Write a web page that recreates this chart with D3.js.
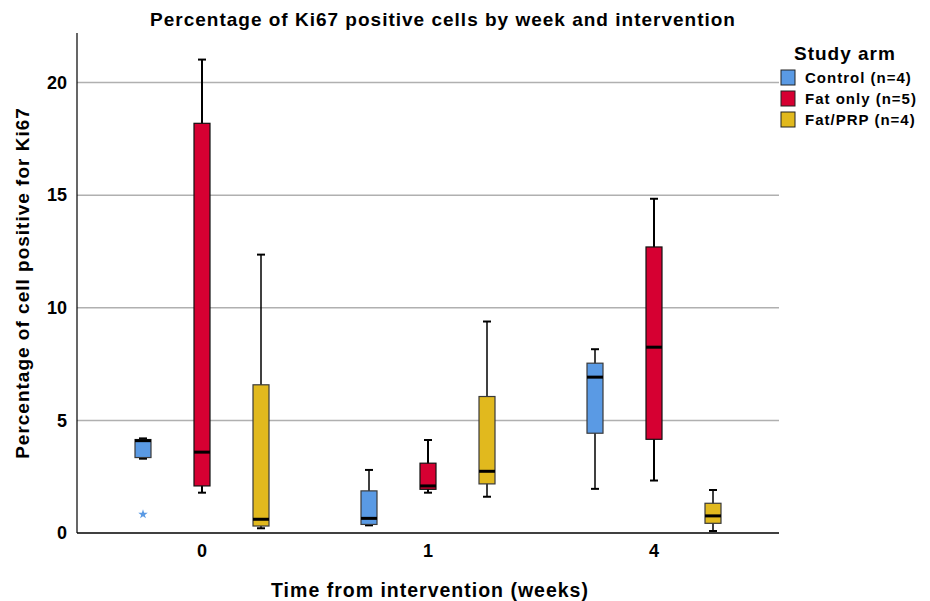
<!DOCTYPE html>
<html><head><meta charset="utf-8">
<script src="https://cdn.jsdelivr.net/npm/d3@7/dist/d3.min.js"></script>
<style>body{margin:0;background:#fff}svg{font-family:"Liberation Sans",Arial,sans-serif;font-weight:bold}</style>
</head><body><svg id="c" width="930" height="601"></svg>
<script>
const weeks = ["0","1","4"];
const arms = ["Control (n=4)","Fat only (n=5)","Fat/PRP (n=4)"];
const colors = ["#5a9ae4","#d60032","#e1b91e"];
const yTicks = [0,5,10,15,20];
// [min, q1, median, q3, max] per week
const control = [[3.3,3.35,4.1,4.15,4.2],[0.34,0.38,0.65,1.87,2.8],[1.96,4.43,6.92,7.54,8.16]];
const fatOnly = [[1.79,2.09,3.59,18.19,21.02],[1.79,1.94,2.09,3.1,4.13],[2.33,4.16,8.25,12.7,14.84]];
const fatPRP  = [[0.21,0.31,0.61,6.58,12.36],[1.61,2.18,2.74,6.06,9.39],[0.09,0.43,0.76,1.32,1.91]];
const outliers = [{week:"0", arm:0, value:0.83}];

const svg = d3.select("#c");
const pL=77,pR=779,pT=33,pB=533;
const x = d3.scaleBand().domain(weeks).range([89,767]);
const sub = d3.scalePoint().domain([0,1,2]).range([-59,59]);
const y = d3.scaleLinear().domain([0,22.2]).range([pB,pT]);
const FF="Liberation Sans, Arial, sans-serif";

// gridlines
svg.append("g").selectAll("line").data(yTicks.filter(d=>d>0)).join("line")
  .attr("x1",pL).attr("x2",pR).attr("y1",d=>y(d)).attr("y2",d=>y(d))
  .attr("stroke","#b0b0b0").attr("stroke-width",1.5);

// axes
const ya = svg.append("g").attr("transform",`translate(${pL},0)`)
  .call(d3.axisLeft(y).tickValues(yTicks).tickSize(0).tickPadding(10));
ya.select(".domain").remove();
ya.selectAll("text").attr("font-size",18).attr("font-weight","bold").attr("fill","#000").attr("font-family",FF);
svg.append("line").attr("x1",pL).attr("x2",pL).attr("y1",pT).attr("y2",pB).attr("stroke","#000").attr("stroke-width",1.2);
const xa = svg.append("g").attr("transform",`translate(0,${pB})`)
  .call(d3.axisBottom(x).tickSize(0).tickPadding(11));
xa.select(".domain").remove();
xa.selectAll("text").attr("font-size",18).attr("font-weight","bold").attr("fill","#000").attr("font-family",FF);
svg.append("line").attr("x1",pL).attr("x2",pR).attr("y1",pB).attr("y2",pB).attr("stroke","#000").attr("stroke-width",1.5);

// boxes
const series=[control,fatOnly,fatPRP];
const bw=16, cap=8;
series.forEach((s,i)=>{
  s.forEach((st,w)=>{
    const cx = x(weeks[w])+x.bandwidth()/2+sub(i);
    const g=svg.append("g");
    const stroke = i===1?"#111":"#3a3a3a";
    g.append("line").attr("x1",cx).attr("x2",cx).attr("y1",y(st[4])).attr("y2",y(st[0])).attr("stroke","#000").attr("stroke-width",i===1?2:1.5);
    [st[0],st[4]].forEach(v=>g.append("line").attr("x1",cx-cap/2).attr("x2",cx+cap/2).attr("y1",y(v)).attr("y2",y(v)).attr("stroke","#000").attr("stroke-width",2));
    g.append("rect").attr("x",cx-bw/2).attr("width",bw).attr("y",y(st[3])).attr("height",y(st[1])-y(st[3]))
      .attr("fill",colors[i]).attr("stroke",stroke).attr("stroke-width",1.2);
    g.append("line").attr("x1",cx-bw/2).attr("x2",cx+bw/2).attr("y1",y(st[2])).attr("y2",y(st[2])).attr("stroke","#000").attr("stroke-width",3);
  });
});
outliers.forEach(o=>{
  const cx=x(o.week)+x.bandwidth()/2+sub(o.arm);
  svg.append("path").attr("d",d3.symbol(d3.symbolStar,28)()).attr("transform",`translate(${cx},${y(o.value)})`).attr("fill",colors[o.arm]);
});

// titles
svg.append("text").attr("x",443).attr("y",26).attr("text-anchor","middle").attr("font-size",19).attr("letter-spacing",1).text("Percentage of Ki67 positive cells by week and intervention");
svg.append("text").attr("transform","translate(29,283) rotate(-90)").attr("text-anchor","middle").attr("font-size",19).attr("letter-spacing",1).text("Percentage of cell positive for Ki67");
svg.append("text").attr("x",430).attr("y",597).attr("text-anchor","middle").attr("font-size",19.5).attr("letter-spacing",1).text("Time from intervention (weeks)");

// legend
const lg=svg.append("g");
lg.append("text").attr("x",794).attr("y",60).attr("font-size",19).attr("letter-spacing",1).text("Study arm");
arms.forEach((a,i)=>{
  const yy=70+i*21;
  lg.append("rect").attr("x",781).attr("y",yy).attr("width",14).attr("height",15).attr("fill",colors[i]).attr("stroke","#222").attr("stroke-width",1);
  lg.append("text").attr("x",805).attr("y",yy+13).attr("font-size",15).attr("letter-spacing",1).text(a);
});
</script></body></html>
